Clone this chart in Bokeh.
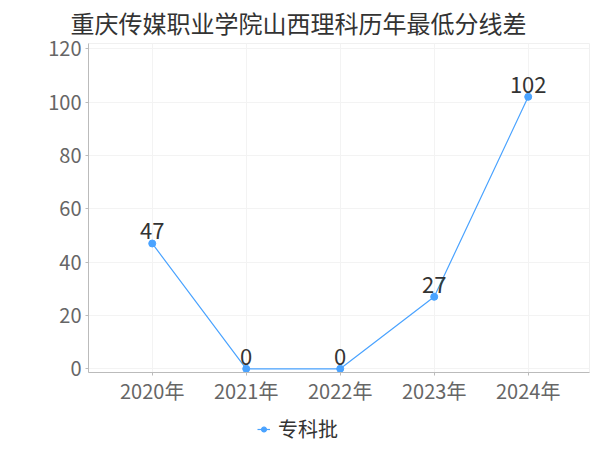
from bokeh.plotting import figure
from bokeh.layouts import column
from bokeh.models import Legend, LegendItem, FixedTicker, Range1d, ColumnDataSource
from bokeh.core.properties import value
from bokeh.embed import file_html
from bokeh.resources import INLINE

title_text = "重庆传媒职业学院山西理科历年最低分线差"
years = ["2020年", "2021年", "2022年", "2023年", "2024年"]
series_name = "专科批"
diffs = [47, 0, 0, 27, 102]
y_ticks = [0, 20, 40, 60, 80, 100, 120]

FONT = "Noto Sans CJK SC"
BLUE = "#4aa3ff"

xs = list(range(len(years)))
src = ColumnDataSource(dict(x=xs, y=diffs, label=[str(v) for v in diffs]))

p = figure(width=600, height=410, output_backend="svg", toolbar_location=None,
           x_range=Range1d(-0.678, 4.652), y_range=Range1d(-1.39, 122.0),
           min_border_left=88, min_border_right=11, min_border_top=43, min_border_bottom=38)

p.title.text = title_text
p.title.text_font = "Lato, Noto Sans CJK SC"
p.title.text_font_size = "24px"
p.title.text_font_style = "normal"
p.title.text_color = "#333333"
p.title.align = "left"
p.title.offset = -18
p.title.standoff = 12

p.outline_line_color = "#f0f0f0"
p.background_fill_color = "white"

# axes
p.xaxis.ticker = FixedTicker(ticks=xs)
p.xaxis.major_label_overrides = {i: y for i, y in enumerate(years)}
p.yaxis.ticker = FixedTicker(ticks=y_ticks)
for ax in (p.xaxis[0], p.yaxis[0]):
    ax.axis_line_color = "#bbbbbb"
    ax.major_tick_line_color = "#bbbbbb"
    ax.minor_tick_line_color = None
    ax.major_tick_in = 0
    ax.major_label_text_font = FONT
    ax.major_label_text_font_size = "20px"
    ax.major_label_text_color = "#666666"
p.yaxis.major_tick_out = 3
p.yaxis.major_label_standoff = 4
p.xaxis.major_tick_out = 3
p.xaxis.major_label_standoff = 0

p.xgrid.ticker = FixedTicker(ticks=xs)
p.ygrid.ticker = FixedTicker(ticks=y_ticks)
p.xgrid.grid_line_color = "#f3f3f3"
p.ygrid.grid_line_color = "#f3f3f3"

p.line("x", "y", source=src, line_color=BLUE, line_width=1.2)
p.scatter("x", "y", source=src, size=7, fill_color=BLUE, line_color=BLUE)

p.text("x", "y", text="label", source=src, text_align="center", text_baseline="bottom",
       y_offset=-4, text_font=value(FONT), text_font_size="22px", text_color="#333333")

# legend strip below the chart (its own renderers sit outside its visible range)
lg = figure(width=600, height=40, output_backend="svg", toolbar_location=None,
            x_axis_type=None, y_axis_type=None,
            x_range=Range1d(-100, -99), y_range=Range1d(-100, -99), min_border=0)
lg.outline_line_color = None
lg.grid.visible = False
lg_line = lg.line("x", "y", source=src, line_color=BLUE, line_width=1.2)
lg_dot = lg.scatter("x", "y", source=src, size=7, fill_color=BLUE, line_color=BLUE)
legend = Legend(items=[LegendItem(label=series_name, renderers=[lg_line, lg_dot])],
                location=(169, 7), orientation="horizontal",
                border_line_color=None, background_fill_alpha=0,
                padding=0, margin=0, spacing=0,
                glyph_width=13, glyph_height=20, label_height=20, label_standoff=8,
                label_text_font=FONT, label_text_font_size="20px", label_text_color="#333333")
lg.add_layout(legend, "center")

open("out.html", "w").write(file_html(column(p, lg, spacing=0), INLINE))
